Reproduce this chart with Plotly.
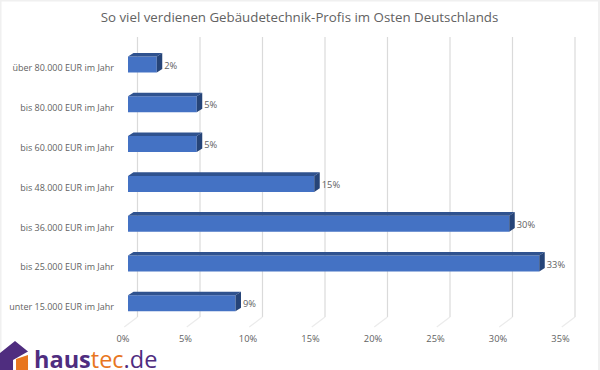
import plotly.graph_objects as go

categories = ["über 80.000 EUR im Jahr", "bis 80.000 EUR im Jahr", "bis 60.000 EUR im Jahr",
              "bis 48.000 EUR im Jahr", "bis 36.000 EUR im Jahr", "bis 25.000 EUR im Jahr",
              "unter 15.000 EUR im Jahr"]
values = [2.3, 5.5, 5.5, 14.9, 30.5, 32.9, 8.6]
labels = ["2%", "5%", "5%", "15%", "30%", "33%", "9%"]
ticks = [0, 5, 10, 15, 20, 25, 30, 35]
ticktext = ["0%", "5%", "10%", "15%", "20%", "25%", "30%", "35%"]

W, H = 600, 370
PXU = 12.5          # pixels per percent point
STEP = 39.8         # pixels per category row
GREY = "#626262"
FONT = "Open Sans"
pos = list(range(len(categories)))

def xr(zero_px):
    return [-zero_px / PXU, (W - zero_px) / PXU]

def yr(first_px):
    return [(H - first_px) / STEP, -first_px / STEP]

Y0 = 64.5           # pixel centre of the first row
def row(px):
    return (px - Y0) / STEP

BACK = (137.5 - 123) / PXU   # rear wall offset from label axis
DX = 5.5 / PXU      # bar depth in x units
DY = 3.6 / STEP     # bar depth in y units
HB = 8 / STEP       # half bar height

fig = go.Figure()

# rear-wall gridlines and faded floor lines
gx, gy, fx, fy = [], [], [], []
for t in ticks:
    gx += [t + BACK, t + BACK, None]
    gy += [row(37), row(317), None]
    fx += [t + BACK, t + 0.1, None]
    fy += [row(317), row(327), None]
fig.add_trace(go.Scatter(x=gx, y=gy, mode="lines", line=dict(color="#DADADA", width=1.2),
                         xaxis="x", yaxis="y", hoverinfo="skip"))
fig.add_trace(go.Scatter(x=fx, y=fy, mode="lines", line=dict(color="#EBEBEB", width=1.2),
                         xaxis="x", yaxis="y", hoverinfo="skip"))

fig.add_trace(go.Bar(x=values, y=pos, orientation="h", width=2 * HB, xaxis="x2", yaxis="y",
                     marker=dict(color="#4472C4", line_width=0), hoverinfo="skip"))
for p, v in zip(pos, values):
    fig.add_trace(go.Scatter(x=[0, DX, v + DX, v, 0], y=[p - HB, p - HB - DY, p - HB - DY, p - HB, p - HB],
                             fill="toself", fillcolor="#2F528F", mode="none", xaxis="x2", yaxis="y", hoverinfo="skip"))
    fig.add_trace(go.Scatter(x=[v, v + DX, v + DX, v, v], y=[p - HB, p - HB - DY, p + HB - DY, p + HB, p - HB],
                             fill="toself", fillcolor="#264478", mode="none", xaxis="x2", yaxis="y", hoverinfo="skip"))
fig.add_trace(go.Scatter(x=[v + 7.5 / PXU for v in values], y=[p + 1.8 / STEP for p in pos], mode="text", text=labels,
                         textposition="middle right", textfont=dict(size=9.3, color=GREY, family=FONT),
                         xaxis="x2", yaxis="y", hoverinfo="skip"))
# carries the category-label axis
fig.add_trace(go.Scatter(x=[0] * len(pos), y=pos, xaxis="x", yaxis="y2", mode="none", hoverinfo="skip"))

# Logo text and house
fig.add_annotation(xref="paper", yref="paper", x=33 / W, y=1 - 372 / H, xanchor="left", yanchor="bottom", showarrow=False,
                   yshift=-4, borderpad=0,
                   text='<b style="color:#4F2D7F">haus</b><span style="color:#E8761E">tec</span><span style="color:#4F2D7F">.de</span>',
                   font=dict(size=23.5, family=FONT))
def P(x, y):
    return f"{x / W:.4f},{1 - y / H:.4f}"
house = "M " + " L ".join(P(x, y) for x, y in [(0, 353), (15, 341), (28, 351.5), (13, 360), (13, 370), (0, 370)]) + " Z"
door = "M " + " L ".join(P(x, y) for x, y in [(16, 359), (28, 355), (28, 370), (16, 370)]) + " Z"

axis_off = dict(showline=False, zeroline=False, showgrid=False)
fig.update_layout(
    width=W, height=H, showlegend=False, margin=dict(l=0, r=0, t=0, b=0), plot_bgcolor="white", paper_bgcolor="white",
    title=dict(text="So viel verdienen Gebäudetechnik-Profis im Osten Deutschlands", x=299.5 / W, xanchor="center",
               y=1 - 17 / H, yanchor="middle", font=dict(size=13.3, color=GREY, family=FONT)),
    xaxis=dict(domain=[0, 1], range=xr(123), tickvals=ticks, ticktext=ticktext, anchor="free",
               position=1 - 332 / H, ticks="", tickfont=dict(size=9.3, color=GREY, family=FONT), **axis_off),
    xaxis2=dict(domain=[0, 1], range=xr(128), visible=False, overlaying="x", anchor="y"),
    yaxis=dict(domain=[0, 1], range=yr(Y0), visible=False, anchor="x"),
    yaxis2=dict(domain=[0, 1], range=yr(68.2), tickvals=pos, ticktext=categories, overlaying="y", anchor="free",
                position=114 / W, side="left", ticks="", tickfont=dict(size=9, color=GREY, family=FONT), **axis_off),
    shapes=[
        dict(type="path", xref="paper", yref="paper", path=house, fillcolor="#4F2D7F", line_width=0),
        dict(type="path", xref="paper", yref="paper", path=door, fillcolor="#E8761E", line_width=0),
        dict(type="rect", xref="paper", yref="paper", x0=0, x1=1.5 / W, y0=0, y1=1, fillcolor="#F0F0F0", line_width=0, layer="below"),
        dict(type="rect", xref="paper", yref="paper", x0=0, x1=1, y0=1 - 1.5 / H, y1=1, fillcolor="#F0F0F0", line_width=0, layer="below"),
        dict(type="rect", xref="paper", yref="paper", x0=598 / W, x1=1, y0=0, y1=1, fillcolor="#F0F0F0", line_width=0, layer="below"),
    ],
)
fig.write_html("out.html", config={"displayModeBar": False},
               post_script="document.body.style.margin='0';document.documentElement.style.overflow='hidden';")
